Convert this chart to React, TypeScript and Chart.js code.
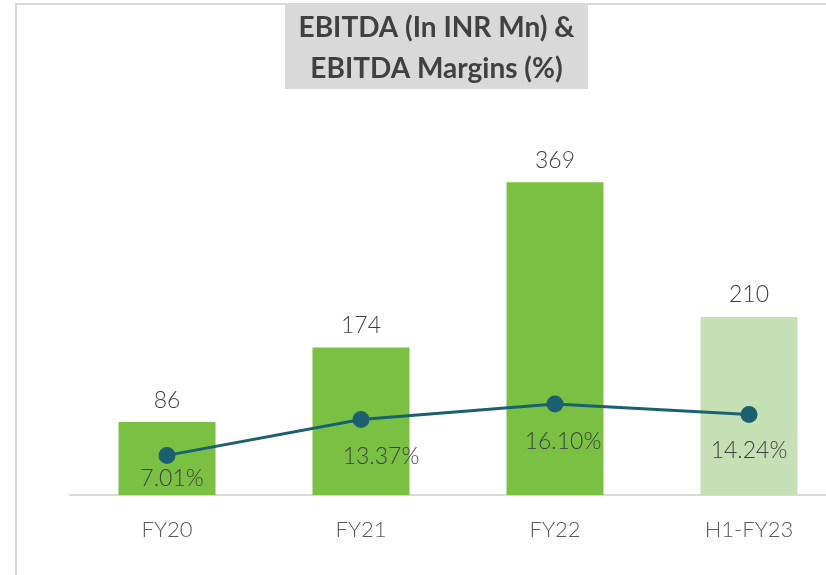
import React, { useEffect, useRef } from "react";
import { Chart, registerables } from "chart.js";

Chart.register(...registerables);

const categories = ["FY20", "FY21", "FY22", "H1-FY23"];
const ebitda = [86, 174, 369, 210];
const margins = [7.01, 13.37, 16.1, 14.24];
const barColors = ["#7ac143", "#7ac143", "#7ac143", "#c5e0b4"];
const titleLines = ["EBITDA (In INR Mn) &", "EBITDA Margins (%)"];

const W = 860;
const H = 575;

const decorPlugin = {
  id: "decor",
  beforeDraw(chart: any) {
    const ctx = chart.ctx;
    ctx.save();
    // outer frame
    ctx.strokeStyle = "#d9d9d9";
    ctx.lineWidth = 2;
    ctx.beginPath();
    ctx.moveTo(16, H);
    ctx.lineTo(16, 4);
    ctx.lineTo(W, 4);
    ctx.stroke();
    // title box
    ctx.fillStyle = "#d9d9d9";
    ctx.fillRect(285, 5, 303, 84);
    ctx.fillStyle = "#404040";
    ctx.font = "bold 28px Lato";
    ctx.textAlign = "center";
    ctx.textBaseline = "middle";
    ctx.fillText(titleLines[0], 436.5, 28);
    ctx.fillText(titleLines[1], 436.5, 69);
    ctx.restore();
  },
  afterDatasetsDraw(chart: any) {
    const ctx = chart.ctx;
    ctx.save();
    ctx.font = "300 23px Lato";
    ctx.fillStyle = "#404040";
    ctx.textAlign = "center";
    ctx.textBaseline = "middle";
    const barMeta = chart.getDatasetMeta(0);
    barMeta.data.forEach((bar: any, i: number) => {
      ctx.fillText(String(ebitda[i]), bar.x, bar.y - 22);
    });
    const dx = [5, 20, 8, 0];
    const dy = [23, 37, 38, 36];
    const lineMeta = chart.getDatasetMeta(1);
    lineMeta.data.forEach((pt: any, i: number) => {
      ctx.fillText(margins[i].toFixed(2) + "%", pt.x + dx[i], pt.y + dy[i]);
    });
    ctx.restore();
  },
};

export default function App() {
  const ref = useRef<HTMLCanvasElement>(null);
  useEffect(() => {
    if (!ref.current) return;
    const chart = new Chart(ref.current, {
      type: "bar",
      data: {
        labels: categories,
        datasets: [
          {
            type: "bar",
            label: "EBITDA",
            data: ebitda,
            backgroundColor: barColors,
            barPercentage: 0.5,
            categoryPercentage: 1,
            yAxisID: "y",
            order: 1,
          },
          {
            type: "line",
            label: "EBITDA Margin",
            data: margins,
            borderColor: "#1b6070",
            backgroundColor: "#1b6070",
            borderWidth: 3,
            pointRadius: 7,
            pointHoverRadius: 7,
            tension: 0,
            yAxisID: "y1",
            order: 0,
          } as any,
        ],
      },
      options: {
        responsive: false,
        animation: false,
        devicePixelRatio: 1,
        layout: { padding: { left: 70, right: 14, top: 156, bottom: 0 } },
        plugins: {
          legend: { display: false },
          title: { display: false },
          tooltip: { enabled: false },
        },
        scales: {
          x: {
            grid: { display: false, drawTicks: false },
            border: { display: true, color: "#d9d9d9", width: 2 },
            ticks: {
              color: "#595959",
              font: { family: "Lato", size: 22, weight: "300" as any },
              padding: 22,
            },
            afterFit: (s: any) => {
              s.height = 80;
            },
          },
          y: { display: false, min: 0, max: 400 },
          y1: { display: false, min: 0, max: 60, position: "right" },
        },
      },
      plugins: [decorPlugin],
    });
    return () => chart.destroy();
  }, []);
  return (
    <div
      style={{
        position: "fixed",
        left: 0,
        top: 0,
        width: 826,
        height: 575,
        overflow: "hidden",
        background: "#fff",
      }}
    >
      <canvas ref={ref} width={W} height={H} style={{ width: W, height: H, display: "block" }} />
    </div>
  );
}
